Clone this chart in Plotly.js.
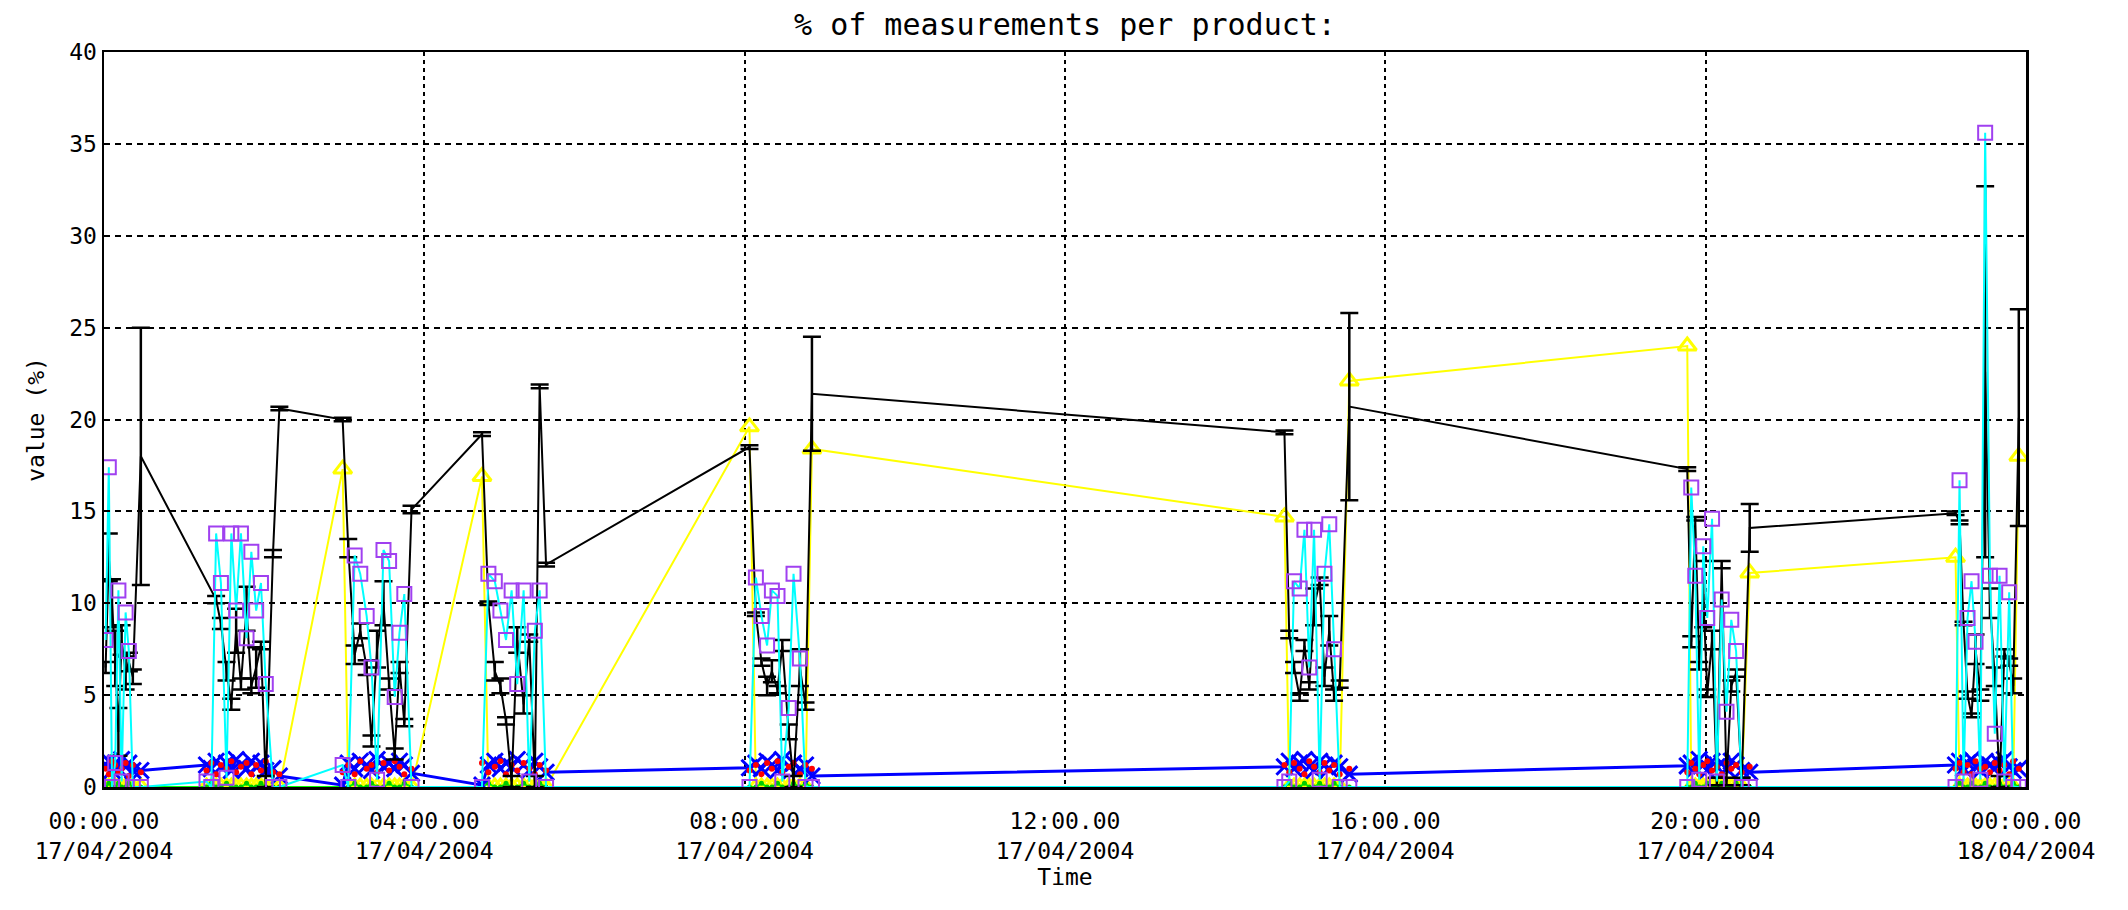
<!DOCTYPE html>
<html>
<head>
<meta charset="utf-8">
<script src="https://cdn.plot.ly/plotly-3.0.1.min.js"></script>
<style>
html,body{margin:0;padding:0;background:#fff;}
#chart{width:2128px;height:910px;}
</style>
</head>
<body>
<div id="chart"></div>
<script>
// ---- data (hours after 00:00 17/04/2004) ----
const timeH = [
  0.02,0.06,0.10,0.14,0.18,0.22,0.27,0.31,0.36,0.46,
  1.28,1.34,1.40,1.46,1.53,1.59,1.65,1.71,1.78,1.84,1.90,1.96,2.02,2.11,2.19,
  2.98,3.05,3.13,3.20,3.28,3.34,3.41,3.49,3.56,3.63,3.69,3.75,3.84,
  4.72,4.80,4.88,4.95,5.02,5.09,5.16,5.24,5.31,5.38,5.44,5.52,
  8.06,8.14,8.21,8.28,8.34,8.41,8.47,8.55,8.61,8.69,8.76,8.84,
  14.74,14.80,14.86,14.93,14.99,15.05,15.11,15.18,15.24,15.30,15.36,15.43,15.55,
  19.77,19.82,19.87,19.92,19.97,20.02,20.08,20.14,20.20,20.26,20.32,20.38,20.45,20.55,
  23.12,23.17,23.22,23.27,23.32,23.37,23.43,23.49,23.55,23.61,23.67,23.73,23.79,23.84,23.91
];
const blackValues = [
  6.5,12.5,10.0,7.0,3.0,8.0,6.2,6.8,6.0,18.0,
  null,null,10.2,8.9,6.3,4.5,8.5,5.6,9.7,5.5,6.5,7.7,0.3,12.7,20.6,
  20.0,13.0,7.2,8.5,6.5,2.5,7.5,10.0,5.6,1.8,6.5,3.5,15.1,
  19.2,10.0,6.3,5.5,3.6,0.3,8.0,4.5,8.1,0.3,21.8,12.1,
  18.5,9.4,6.8,5.5,6.3,5.3,7.7,3.0,0.3,6.5,4.4,21.4,
  19.3,8.3,6.5,4.9,7.7,5.5,9.8,11.2,6.0,8.5,5.0,5.6,20.7,
  17.3,7.9,14.6,6.6,10.5,5.1,8.0,0.3,12.1,0.3,5.5,6.2,0.3,14.1,
  14.9,14.4,8.9,5.0,3.9,7.5,5.0,22.6,10.0,6.0,0.3,7.3,6.8,5.5,20.1
];
const blackErrors = [
  0.3,1.3,1.3,1.5,1.3,0.8,0.9,0.5,0.4,7.0,
  null,null,0.2,0.3,0.5,0.3,1.2,0.3,1.2,0.4,1.1,0.2,0.3,0.2,0.1,
  0.1,0.5,0.5,0.4,0.4,0.3,1.0,1.2,0.3,0.3,0.3,0.2,0.2,
  0.1,0.1,0.5,0.4,0.2,0.3,0.7,0.5,0.2,0.3,0.1,0.1,
  0.1,0.1,0.2,0.5,0.6,0.2,0.3,0.4,0.3,1.0,0.2,3.1,
  0.1,0.2,0.3,0.2,0.3,0.2,1.0,0.2,0.5,0.8,0.3,0.2,5.1,
  0.1,0.3,0.1,0.2,1.8,0.2,0.5,0.2,0.2,0.2,0.3,0.2,0.2,1.3,
  0.1,0.1,0.1,0.2,0.1,0.8,0.3,10.1,0.8,0.5,0.3,0.2,0.2,0.4,5.9
];
const yellowValues = [
  0,0,0,0,0,0,0,0,0,0,
  0,0,0,0,0,0,0,0,0,0,0,0,0,0,0,
  17.3,0,0,0,0,0,0,0,0,0,0,0,0,
  16.9,0,0,0,0,0,0,0,0,0,0,0,
  19.6,0,0,0,0,0,0,0,0,0,0,18.4,
  14.7,0,0,0,0,0,0,0,0,0,0,0,22.1,
  24.0,0,0,0,0,0,0,0,0,0,0,0,0,11.65,
  12.5,0,0,0,0,0,0,0,0,0,0,0,0,0,18.0
];
const cyanValues = [
  8.0,17.4,0,1.3,10.7,0.3,9.5,7.4,0,0,
  0.3,0,13.8,11.1,0.5,13.8,9.6,13.8,8.1,12.8,9.6,11.1,5.6,0,0,
  1.2,0,12.6,11.6,9.3,6.5,0.4,12.9,12.3,4.9,8.4,10.5,0,
  0,11.6,11.2,9.6,8.0,10.7,5.6,10.7,0.3,8.5,10.7,0,
  0,11.4,9.3,7.7,10.7,10.4,0.3,4.3,11.6,7.0,0,0,
  0,0.3,11.2,10.8,14.0,6.5,14.0,0.4,11.6,14.3,7.5,0,0,
  0,16.3,11.5,0.4,13.1,9.2,14.6,0.3,10.2,4.1,9.1,7.4,0,0,
  0,16.7,0.3,9.2,11.2,7.9,0.4,35.6,11.5,2.9,11.5,0.3,10.6,0,0
];
const blueValues = [
  1.2,1.4,0.9,1.3,1.0,1.5,1.1,1.3,0.9,0.9,
  1.2,1.0,1.4,1.1,1.3,0.9,1.5,1.2,1.0,1.4,1.1,1.3,0.9,1.0,0.6,
  0.1,1.3,1.0,1.4,1.2,0.9,1.5,1.1,1.3,1.0,1.4,1.2,0.75,
  0.1,1.2,1.4,1.0,1.3,1.1,1.5,1.2,0.9,1.4,1.1,0.8,
  1.05,1.3,1.0,1.4,1.2,0.9,1.5,1.1,1.3,1.0,1.2,0.6,
  1.1,1.4,1.0,1.3,1.5,1.1,0.9,1.4,1.2,1.0,1.3,1.1,0.7,
  1.15,1.3,1.0,1.5,1.2,0.9,1.4,1.1,1.3,1.0,1.4,1.2,0.9,0.8,
  1.2,1.4,1.0,1.3,1.5,1.1,0.9,1.4,1.2,1.0,1.3,1.5,1.1,0.9,1.0
];
const redValues = [
  1.0,0.7,1.4,1.2,0.8,1.0,1.3,0.6,1.2,0.8,
  0.9,1.3,0.7,1.2,1.0,1.4,0.8,1.1,1.3,0.7,1.2,0.9,1.4,0.8,0.7,
  0.8,1.2,0.7,1.4,1.0,1.2,0.8,1.3,0.9,1.4,1.1,0.7,1.0,
  1.3,0.8,1.1,1.4,0.7,1.2,0.9,1.3,1.0,0.7,1.2,0.9,
  0.9,1.2,0.7,1.3,1.0,1.4,0.8,1.1,1.3,0.7,1.2,1.0,
  1.2,0.8,1.3,1.0,0.7,1.4,1.1,0.8,1.3,0.9,1.2,0.7,1.0,
  0.8,1.3,1.0,0.7,1.2,1.4,0.9,1.1,0.7,1.3,1.0,1.2,0.8,1.1,
  1.0,1.3,0.8,1.2,0.7,1.4,1.0,1.1,0.8,1.3,0.9,1.2,0.7,1.4,1.0
];
const greenValues = [
  0,0.2,0,0,0.2,0,0,0.2,0,0,
  0,0.2,0,0,0.2,0,0,0,0.2,0,0,0.2,0,0,0,
  0,0,0.2,0,0,0.2,0,0,0.2,0,0,0.2,0,
  0,0.2,0,0,0.2,0,0,0.2,0,0,0.2,0,
  0,0,0.2,0,0,0.2,0,0,0.2,0,0.2,0,
  0,0.2,0,0,0.2,0,0,0.2,0,0,0.2,0,0,
  0,0,0.2,0,0,0.2,0,0,0.2,0,0,0.2,0,0,
  0,0.2,0,0,0.2,0,0,0.2,0,0,0.2,0,0,0.2,0
];
const tickHours = [0,4,8,12,16,20,24];
const tickTimeLabels = ['00:00.00','04:00.00','08:00.00','12:00.00','16:00.00','20:00.00','00:00.00'];
const tickDateLabels = ['17/04/2004','17/04/2004','17/04/2004','17/04/2004','17/04/2004','17/04/2004','18/04/2004'];
const yTicks = [0,5,10,15,20,25,30,35,40];

// ---- helpers ----
function toDate(h){
  const d = new Date(Date.UTC(2004,3,17) + Math.round(h*3600000));
  return d.toISOString().slice(0,19).replace('T',' ');
}
const xs = timeH.map(toDate);

const traces = [
  {x:xs, y:yellowValues, mode:'lines+markers', connectgaps:true,
   line:{color:'#ffff00', width:2},
   marker:{symbol:'triangle-up-open', size:16, color:'#ffff00', line:{width:3}}},
  {x:xs, y:greenValues, mode:'lines+markers',
   line:{color:'#00ff00', width:2},
   marker:{symbol:'circle', size:5, color:'#00cc00'}},
  {x:xs, y:blueValues, mode:'lines+markers',
   line:{color:'#0000ff', width:3},
   marker:{symbol:'x-thin-open', size:16, color:'#0000ff', line:{width:3}}},
  {x:xs, y:redValues, mode:'markers',
   marker:{symbol:'circle', size:6, color:'#ff0000'}},
  {x:xs, y:blackValues, mode:'lines', connectgaps:true,
   line:{color:'#000000', width:2},
   error_y:{type:'data', array:blackErrors, symmetric:true, visible:true, color:'#000000', thickness:2.5, width:9}},
  {x:xs, y:cyanValues, mode:'lines+markers',
   line:{color:'#00ffff', width:2},
   marker:{symbol:'square-open', size:14, color:'#a040f0', line:{width:2}}}
];

const layout = {
  width:2128, height:910,
  margin:{l:104, r:102, t:52, b:123},
  paper_bgcolor:'#ffffff', plot_bgcolor:'#ffffff',
  showlegend:false,
  font:{family:'DejaVu Sans Mono', size:23, color:'#000000'},
  title:{text:'% of measurements per product:', x:0.5, xref:'paper', xanchor:'center',
         y:1-24/910, yref:'container', yanchor:'middle', font:{size:30, color:'#000'}},
  xaxis:{
    type:'date', range:[toDate(0), toDate(24)],
    tickmode:'array', tickvals:tickHours.map(toDate),
    ticktext:tickHours.map((h,i)=>tickTimeLabels[i]+'<br>'+tickDateLabels[i]),
    showgrid:true, gridcolor:'#000000', gridwidth:2, griddash:'4px,4px',
    showline:true, linecolor:'#000000', linewidth:2.5, mirror:true,
    layer:'below traces',
    ticks:'', zeroline:false, ticklabelstandoff:12,
    tickfont:{size:23},
    title:{text:'Time', standoff:4, font:{size:23}}
  },
  yaxis:{
    range:[0,40], tickmode:'array', tickvals:yTicks,
    showgrid:true, gridcolor:'#000000', gridwidth:2, griddash:'6px,5px',
    showline:true, linecolor:'#000000', linewidth:2.5, mirror:true,
    ticks:'inside', ticklen:6, tickwidth:2, tickcolor:'#000',
    zeroline:false, tickfont:{size:23},
    title:{text:'value (%)', standoff:18, font:{size:23}}
  }
};

Plotly.newPlot('chart', traces, layout, {displayModeBar:false, staticPlot:true});
</script>
</body>
</html>
